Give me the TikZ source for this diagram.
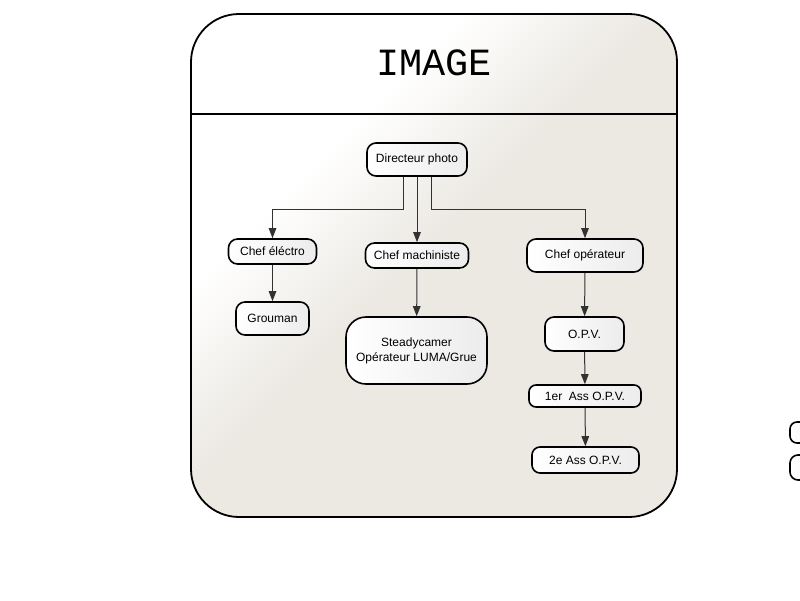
\documentclass[tikz,border=0pt]{standalone}
\usepackage{fontspec}
\setmainfont{Liberation Sans}
\newfontfamily\titlefont{Liberation Mono}
\usetikzlibrary{arrows.meta}
\definecolor{beigec}{RGB}{236,233,227}
\definecolor{nodegray}{RGB}{236,236,236}
\definecolor{linec}{RGB}{50,50,50}
\pgfdeclareverticalshading{boxshade}{100bp}{color(0bp)=(beigec); color(52bp)=(beigec); color(66bp)=(white); color(100bp)=(white)}
\tikzset{
  box/.style={draw=black, line width=1.6pt, rounded corners=9pt, left color=white, right color=nodegray,
    minimum height=33pt, inner sep=0pt, font=\fontsize{12}{15}\selectfont, align=center},
  conn/.style={draw=linec, line width=1pt, -{Triangle[length=10pt,width=7.5pt]}},
}
\begin{document}
\begin{tikzpicture}[x=1pt,y=-1pt]
\useasboundingbox (0,0) rectangle (800,600);
\clip (0,0) rectangle (800,600);
% outer container
\path[shading=boxshade, shading angle=45, draw=black, line width=1.8pt, rounded corners=48pt]
  (191,14) rectangle (677,517);
\draw[line width=1.8pt] (191,114) -- (677,114);
\node[font=\titlefont\fontsize{38.5}{38.5}\selectfont, inner sep=0pt] (title) at (434,63) {IMAGE};
% nodes
\node[box, minimum width=100pt] (dp) at (417,159.5) {Directeur photo};
\node[box, minimum width=88pt, minimum height=25pt] (ce) at (272.5,251.5) {Chef éléctro};
\node[box, minimum width=103pt, minimum height=25pt] (cm) at (417,255.5) {Chef machiniste};
\node[box, minimum width=116pt] (co) at (585,255.5) {Chef opérateur};
\node[box, minimum width=73pt] (gr) at (272.5,318.5) {Grouman};
\node[box, minimum width=141pt, minimum height=67pt, rounded corners=20pt] (sc) at (416.5,350.5) {Steadycamer\\Opérateur LUMA/Grue};
\node[box, minimum width=79pt, minimum height=34pt] (opv) at (584.5,334) {O.P.V.};
\node[box, minimum width=112pt, minimum height=22pt, rounded corners=7pt] (a1) at (585,396) {1er\ \ Ass O.P.V.};
\node[box, minimum width=107pt, minimum height=26pt, rounded corners=8pt] (a2) at (585.5,460) {2e Ass O.P.V.};
% partial nodes cut by the right edge
\node[box, minimum width=60pt, minimum height=21pt, rounded corners=7pt] (p1) at (820,432.5) {};
\node[box, minimum width=60pt, minimum height=25pt, rounded corners=8pt] (p2) at (820,467.5) {};
% connectors
\coordinate (j) at (0,209);
\draw[conn] ([xshift=-14pt]dp.south) |- (ce.north |- j) -- (ce.north);
\draw[conn] (dp.south) -- (cm.north);
\draw[conn] ([xshift=14pt]dp.south) |- (co.north |- j) -- (co.north);
\draw[conn] (ce) -- (gr);
\draw[conn] (cm) -- (sc);
\draw[conn] (co) -- (opv);
\draw[conn] (opv) -- (a1);
\draw[conn] (a1) -- (a2);
\end{tikzpicture}
\end{document}
